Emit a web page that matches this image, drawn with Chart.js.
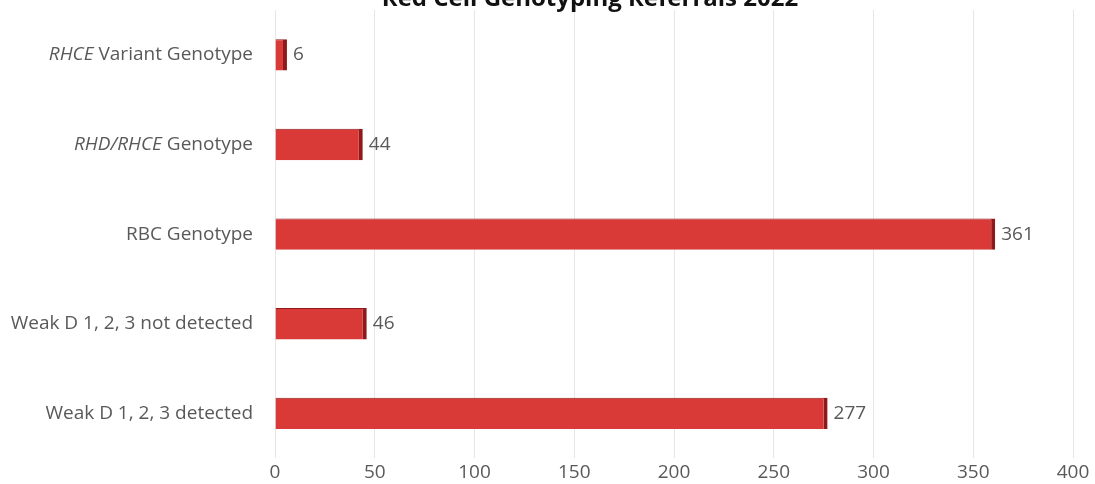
<!DOCTYPE html>
<html lang="en">
<head>
    <meta charset="UTF-8">
    <title>Red Cell Genotyping Referrals 2022</title>
    <script src="https://cdn.jsdelivr.net/npm/chart.js"></script>
    <style>
        html, body { margin: 0; padding: 0; background: #fff; }
        #wrap { width: 1095px; height: 484px; }
    </style>
</head>
<body>
<div id="wrap"><canvas id="chart"></canvas></div>
<script>
// data
const categories = ['RHCE Variant Genotype', 'RHD/RHCE Genotype', 'RBC Genotype', 'Weak D 1, 2, 3 not detected', 'Weak D 1, 2, 3 detected'];
const italicPart = ['RHCE', 'RHD/RHCE', '', '', ''];
const referrals = [6, 44, 361, 46, 277];
const xTicks = [0, 50, 100, 150, 200, 250, 300, 350, 400];

const FONT = '"Open Sans", "Noto Sans", sans-serif';
const GREY = '#595959';
const SIZE = 19;

// draws category labels (with italic gene names), value labels and the title
const extras = {
    id: 'extras',
    afterDraw(chart) {
        const ctx = chart.ctx;
        const y = chart.scales.y;
        const area = chart.chartArea;
        ctx.save();
        ctx.fillStyle = GREY;
        ctx.textBaseline = 'middle';
        categories.forEach((cat, i) => {
            const py = y.getPixelForTick(i);
            const it = italicPart[i];
            const rest = cat.slice(it.length);
            ctx.font = SIZE + 'px ' + FONT;
            const restW = ctx.measureText(rest).width;
            const right = area.left - 22;
            ctx.textAlign = 'right';
            ctx.fillText(rest, right, py);
            if (it) {
                ctx.font = 'italic ' + SIZE + 'px ' + FONT;
                ctx.fillText(it, right - restW, py);
            }
        });
        const meta = chart.getDatasetMeta(0);
        ctx.font = SIZE + 'px ' + FONT;
        ctx.textAlign = 'left';
        meta.data.forEach((bar, i) => {
            ctx.fillText(String(referrals[i]), bar.x + 6, bar.y);
        });
        ctx.font = 'bold 24px ' + FONT;
        ctx.fillStyle = '#111';
        ctx.textAlign = 'center';
        ctx.textBaseline = 'alphabetic';
        ctx.fillText('Red Cell Genotyping Referrals 2022', 590, 6);
        ctx.restore();
    }
};

new Chart(document.getElementById('chart'), {
    type: 'bar',
    data: {
        labels: categories,
        datasets: [{
            data: referrals,
            backgroundColor: '#D93A38',
            borderColor: '#8E1B1B',
            borderWidth: { top: 1, right: 4, bottom: 0, left: 0 },
            borderSkipped: false,
            barPercentage: 0.35,
            categoryPercentage: 1
        }]
    },
    options: {
        indexAxis: 'y',
        responsive: true,
        maintainAspectRatio: false,
        animation: false,
        layout: { padding: { top: 10, right: 22, bottom: -3, left: 0 } },
        plugins: {
            legend: { display: false },
            tooltip: { enabled: false },
            title: { display: false }
        },
        scales: {
            x: {
                min: 0,
                max: 400,
                afterBuildTicks(scale) { scale.ticks = xTicks.map(v => ({ value: v })); },
                grid: { color: '#e6e6e6', drawTicks: false },
                border: { display: false },
                ticks: { color: GREY, font: { family: FONT, size: SIZE }, padding: 3 }
            },
            y: {
                grid: { display: false },
                border: { display: false },
                ticks: { display: false },
                afterFit(scale) {
                    scale.width = 275;
                    scale.paddingTop = 0;
                    scale.paddingBottom = 0;
                }
            }
        }
    },
    plugins: [extras]
});
</script>
</body>
</html>
